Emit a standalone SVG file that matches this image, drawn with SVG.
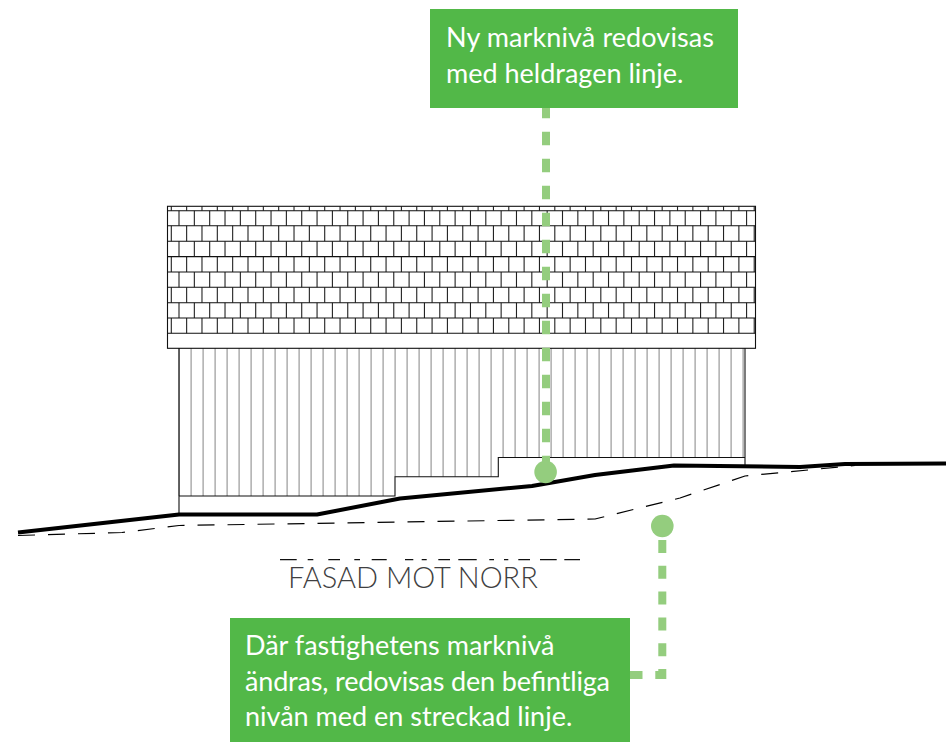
<svg xmlns="http://www.w3.org/2000/svg" width="946" height="742" viewBox="0 0 946 742">
<style>
.t{font-family:"Lato","Noto Sans",sans-serif;fill:#fff;font-size:27px}
.f{font-family:"Lato","Noto Sans",sans-serif;font-weight:300;fill:#404041;font-size:29px}
.o{fill:none;stroke:#111;stroke-width:1.1}
.tick{fill:none;stroke:#222;stroke-dasharray:1.1 14.24}
.board{fill:none;stroke:#999;stroke-dasharray:1.2 10.8}
.g{fill:none;stroke:#000;stroke-linejoin:round}
.d{fill:none;stroke:#94cd7e;stroke-width:8}
.c{fill:#94cd7e}
.b{fill:#52b848}
</style>
<rect width="946" height="742" fill="#fff"/>
<g id="building">
<path class="board" stroke-width="148" d="M178.5 422H394"/>
<path class="board" stroke-width="128.7" d="M394.5 412.3H498"/>
<path class="board" stroke-width="109.5" d="M502.5 402.7H745"/>
<path class="tick" stroke-width="15" d="M178.45 218.2H755"/>
<path class="tick" stroke-width="15.4" d="M178.45 248.9H755"/>
<path class="tick" stroke-width="15.3" d="M178.45 279.65H755"/>
<path class="tick" stroke-width="15.3" d="M178.45 310.35H755"/>
<path class="tick" stroke-width="4.4" d="M170.75 208.5H755"/>
<path class="tick" stroke-width="15.5" d="M170.75 233.45H755"/>
<path class="tick" stroke-width="15.4" d="M170.75 264.3H755"/>
<path class="tick" stroke-width="15.4" d="M170.75 295H755"/>
<path class="tick" stroke-width="15.3" d="M170.75 325.65H755"/>
<rect class="o" x="167.5" y="206.3" width="588" height="142"/>
<path class="o" d="M167.5 210.7H755.5M167.5 225.7H755.5M167.5 241.2H755.5M167.5 256.6H755.5M167.5 272H755.5M167.5 287.3H755.5M167.5 302.7H755.5M167.5 318H755.5M167.5 333.3H755.5"/>
<path class="o" d="M179 348V514.5M745 348V466"/>
<path class="o" d="M179 496H395V476.7H498.3V457.5H745"/>
</g>
<g id="ground">
<path class="g" stroke-width="4" d="M18 532.5L179 514.5H317L400 498.5L532 486L595 475L674 465.5L800 467L845 464L946 463.5"/>
<path class="g" stroke-width="1.2" stroke-dasharray="17 13" d="M18 535.5L122 532.5L179 525.5L595 519L680 498L745 476L855 465.5"/>
</g>
<g id="label-fasad">
<path d="M280 559.7H296.7M307.7 559.7H313.3M328.3 559.7H340M354.3 559.7H360M371.7 559.7H386.7M405 559.7H413.3M421.7 559.7H426.7M438.3 559.7H450M458.3 559.7H476.7M489.3 559.7H494M504 559.7H508.3M518.3 559.7H530M540 559.7H556.7M564.3 559.7H580" stroke="#111" stroke-width="1.3" fill="none"/>
<text class="f" x="288" y="588">FASAD MOT NORR</text>
</g>
<g id="connectors">
<path class="d" d="M546 104.7V470" stroke-dasharray="13.5 13.5"/>
<path class="d" d="M662.3 540V675H630" stroke-dasharray="13 12.8"/>
</g>
<g id="marker-new"><circle class="c" cx="545.6" cy="472" r="11.3"/></g>
<g id="marker-old"><circle class="c" cx="662.3" cy="526" r="11.3"/></g>
<g id="note-new">
<rect class="b" x="430" y="9" width="308" height="99"/>
<text class="t" x="446" y="46.7" textLength="268">Ny marknivå redovisas</text>
<text class="t" x="446" y="83.3">med heldragen linje.</text>
</g>
<g id="note-old">
<rect class="b" x="230" y="618" width="400" height="124"/>
<text class="t" x="245" y="655">Där fastighetens marknivå</text>
<text class="t" x="245" y="690.5" textLength="365">ändras, redovisas den befintliga</text>
<text class="t" x="245" y="726">nivån med en streckad linje.</text>
</g>
</svg>
